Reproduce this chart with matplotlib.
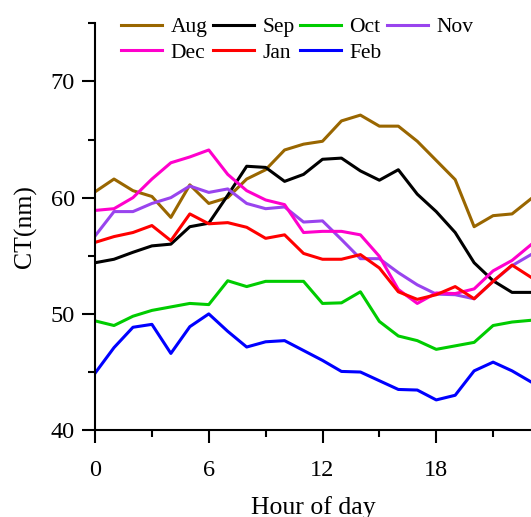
import matplotlib.pyplot as plt
from matplotlib.ticker import MultipleLocator

plt.rcParams['font.family'] = ['Liberation Serif', 'DejaVu Serif']

hours = list(range(24))

aug = [60.5, 61.6, 60.6, 60.1, 58.3, 61.1, 59.5, 60.0, 61.6, 62.4, 64.1, 64.6,
       64.85, 66.6, 67.1, 66.15, 66.15, 64.85, 63.2, 61.55, 57.5, 58.45, 58.6, 59.9]
sep = [54.4, 54.7, 55.3, 55.85, 56.0, 57.5, 57.8, 60.2, 62.7, 62.6, 61.4, 62.0,
       63.3, 63.4, 62.3, 61.5, 62.4, 60.3, 58.8, 57.0, 54.4, 52.85, 51.85, 51.85]
oct_ = [49.4, 49.0, 49.8, 50.3, 50.6, 50.9, 50.8, 52.85, 52.35, 52.8, 52.8, 52.8,
        50.9, 50.95, 51.9, 49.35, 48.1, 47.7, 46.95, 47.25, 47.55, 49.0, 49.3, 49.45]
nov = [56.7, 58.8, 58.8, 59.5, 60.0, 61.0, 60.45, 60.75, 59.5, 59.05, 59.2, 57.9,
       58.0, 56.4, 54.75, 54.75, 53.55, 52.5, 51.7, 51.65, 51.3, 52.8, 54.15, 55.1]
dec = [58.9, 59.05, 60.0, 61.6, 63.0, 63.5, 64.1, 62.0, 60.6, 59.8, 59.4, 57.0,
       57.1, 57.1, 56.8, 54.95, 52.1, 50.9, 51.8, 51.75, 52.15, 53.7, 54.6, 55.95]
jan = [56.15, 56.65, 57.0, 57.6, 56.3, 58.6, 57.75, 57.85, 57.45, 56.5, 56.8, 55.2,
       54.7, 54.7, 55.1, 53.95, 51.9, 51.25, 51.65, 52.35, 51.3, 52.8, 54.2, 53.15]
feb = [44.9, 47.1, 48.85, 49.1, 46.6, 48.9, 50.0, 48.5, 47.15, 47.6, 47.7, 46.85,
       46.0, 45.05, 45.0, 44.25, 43.5, 43.45, 42.6, 43.0, 45.1, 45.85, 45.1, 44.15]

months = ['Aug', 'Sep', 'Oct', 'Nov', 'Dec', 'Jan', 'Feb']
series = [aug, sep, oct_, nov, dec, jan, feb]
colors = ['#996600', '#000000', '#00CC00', '#9944EE', '#FF00CC', '#FF0000', '#0000FF']

fig = plt.figure(figsize=(5.31, 5.17), dpi=100)
ax = fig.add_axes([0.179, 0.168, 0.821, 0.787])

lines = {}
for name, vals, c in zip(months, series, colors):
    lines[name], = ax.plot(hours, vals, color=c, lw=2.2, label=name)

ax.set_xlim(0, 23)
ax.set_ylim(40, 75)
ax.xaxis.set_major_locator(MultipleLocator(6))
ax.xaxis.set_minor_locator(MultipleLocator(3))
ax.yaxis.set_major_locator(MultipleLocator(10))
ax.yaxis.set_minor_locator(MultipleLocator(5))
ax.tick_params(which='major', length=9.5, width=1.5, labelsize=17.5)
ax.tick_params(which='minor', length=5, width=1.5)
ax.tick_params(axis='x', which='major', pad=12)
ax.tick_params(axis='y', which='major', pad=5)
for s in ['top', 'right']:
    ax.spines[s].set_visible(False)
for s in ['left', 'bottom']:
    ax.spines[s].set_linewidth(1.5)

ax.set_xlabel('Hour of day', fontsize=18.5, labelpad=11)
ax.set_ylabel('CT(nm)', fontsize=18.5, labelpad=10)

# legend filled row by row: reorder for column-wise filling
order = ['Aug', 'Dec', 'Sep', 'Jan', 'Oct', 'Feb', 'Nov']
ax.legend([lines[m] for m in order], order, ncol=4, frameon=False, fontsize=15.5,
          loc='upper left', bbox_to_anchor=(121 / 531, 1 - 17 / 517),
          bbox_transform=fig.transFigure, borderpad=0, borderaxespad=0,
          handlelength=1.9, handletextpad=0.4, columnspacing=0.25, labelspacing=0.25)

fig.savefig('out.png', dpi=100)
